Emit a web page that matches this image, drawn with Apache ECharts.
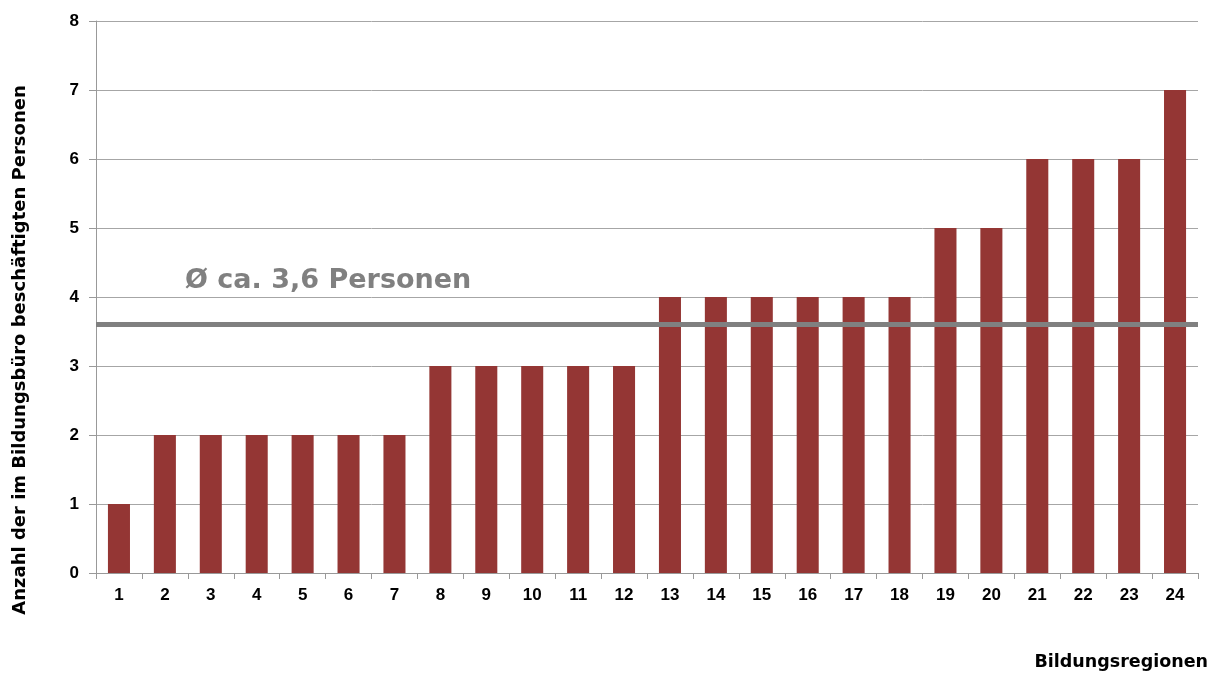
<!DOCTYPE html>
<html>
<head>
<meta charset="utf-8">
<script src="https://cdn.jsdelivr.net/npm/echarts@6/dist/echarts.min.js"></script>
<style>
  html, body { margin: 0; padding: 0; background: #fff; }
  #chart { width: 1218px; height: 675px; }
</style>
</head>
<body>
<div id="chart"></div>
<script>
// Staff per education office, by education region
const regions = ['1','2','3','4','5','6','7','8','9','10','11','12','13','14','15','16','17','18','19','20','21','22','23','24'];
const staff = [1,2,2,2,2,2,2,3,3,3,3,3,4,4,4,4,4,4,5,5,6,6,6,7];
const average = 3.6;
const averageLabel = 'Ø ca. 3,6 Personen';
const yTicks = { min: 0, max: 8, interval: 1 };

const tickFont = 'Liberation Sans, Arial, sans-serif';
const titleFont = 'DejaVu Sans, Verdana, sans-serif';
const chart = echarts.init(document.getElementById('chart'));

chart.setOption({
  animation: false,
  backgroundColor: '#ffffff',
  grid: { left: 96, right: 20, top: 21, bottom: 102, containLabel: false },
  xAxis: {
    type: 'category',
    data: regions,
    name: 'Bildungsregionen',
    nameLocation: 'end',
    nameGap: 0,
    nameTextStyle: {
      fontFamily: titleFont, fontWeight: 'bold', fontSize: 17.5, color: '#000',
      align: 'right', verticalAlign: 'top', padding: [80, -10, 0, 0]
    },
    axisLine: { lineStyle: { color: '#999999', width: 1 } },
    axisTick: { show: true, alignWithLabel: false, length: 6, lineStyle: { color: '#999999' } },
    axisLabel: { fontFamily: tickFont, fontWeight: 'bold', fontSize: 17, color: '#000', margin: 14 }
  },
  yAxis: {
    type: 'value',
    min: yTicks.min, max: yTicks.max, interval: yTicks.interval,
    name: 'Anzahl der im Bildungsbüro beschäftigten Personen',
    nameLocation: 'middle',
    nameGap: 67,
    nameRotate: 90,
    nameTextStyle: {
      fontFamily: titleFont, fontWeight: 'bold', fontSize: 18, color: '#000',
      padding: [0, 106, 0, 0]
    },
    axisLine: { show: true, lineStyle: { color: '#999999', width: 1 } },
    axisTick: { show: true, length: 7, lineStyle: { color: '#999999' } },
    axisLabel: { fontFamily: tickFont, fontWeight: 'bold', fontSize: 17, color: '#000', margin: 17 },
    splitLine: { show: true, lineStyle: { color: '#a6a6a6', width: 1 } }
  },
  series: [{
    type: 'bar',
    data: staff,
    barCategoryGap: '52%',
    itemStyle: { color: '#943634' },
    markLine: {
      symbol: 'none',
      silent: true,
      lineStyle: { color: '#808080', width: 5, type: 'solid' },
      label: {
        show: true,
        position: 'insideStartTop',
        formatter: averageLabel,
        fontFamily: titleFont, fontWeight: 'bold', fontSize: 27, color: '#808080',
        distance: [89, 30]
      },
      data: [{ yAxis: average }]
    }
  }]
});
</script>
</body>
</html>
